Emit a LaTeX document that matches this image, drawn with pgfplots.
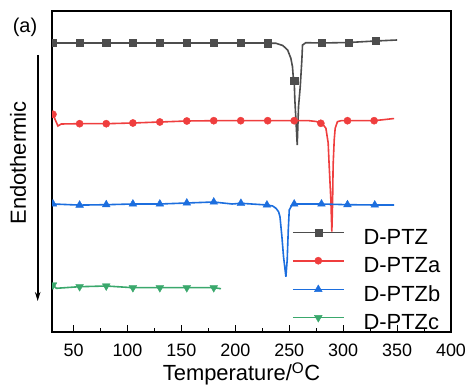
\documentclass[border=0pt]{standalone}
\usepackage{pgfplots}
\pgfplotsset{compat=1.18}
\usepackage{fontspec}
\setmainfont{Liberation Sans}
\usetikzlibrary{arrows.meta}
\definecolor{cgray}{RGB}{77,77,77}
\definecolor{cred}{RGB}{239,62,62}
\definecolor{cblue}{RGB}{28,110,222}
\definecolor{cgreen}{RGB}{58,168,108}
\begin{document}
\begin{tikzpicture}
\useasboundingbox (0bp,0bp) rectangle (472bp,388bp);
\begin{axis}[
  at={(52bp,56bp)}, anchor=south west, scale only axis,
  width=399bp, height=321bp,
  xmin=30, xmax=400, ymin=0, ymax=321,
  xtick={50,100,...,400}, minor x tick num=1, ytick=\empty,
  xtick pos=bottom, tick align=inside,
  major tick length=6.5bp, minor tick length=3.5bp,
  axis line style={line width=1.2bp},
  every tick/.style={black, line width=1bp},
  ticklabel style={font=\fontsize{18}{20}\selectfont},
  /pgf/number format/assume math mode=true,
  xticklabel shift=8bp,
  xlabel={Temperature/\textsuperscript{O}C},
  xlabel style={font=\fontsize{22}{24}\selectfont, at={(axis description cs:0.475,0)}, anchor=north, yshift=-27bp},
  clip marker paths=true,
  legend style={at={(axis description cs:0.601,0.323)}, anchor=north west, draw=none, fill=none,
     inner sep=0pt, column sep=19bp, row sep=8.2bp,
     font=\fontsize{22}{24}\selectfont,
     nodes={inner sep=0pt, text height=16bp, text depth=4bp}},
  legend cell align=left,
  legend image code/.code={\draw[#1, line width=1.6bp] (0bp,6bp) -- (51bp,6bp); \draw[#1] plot coordinates {(25.5bp,6bp)};},
]
% D-PTZ
\addplot[cgray, line width=1.6bp, no marks, forget plot] coordinates {
(30,289) (55,289) (80,289) (105,289) (130,289) (155,289) (180,289) (205,289) (225,289)
(230,288.8) (237.7,288.7) (244,286.5) (248.5,282) (251.5,273.7) (253,265.3) (253.7,255.3)
(254.6,251.3) (255.2,232) (256.2,212) (257.4,187) (258.6,225.3) (260.2,245.3) (261.7,272)
(262.3,287) (265.4,289.3) (280,289) (305,289.5) (330,291) (350,292)};
\addplot[cgray, only marks, mark=square*, mark size=3.6bp] coordinates {
(30.9,289) (55.6,289) (80.3,289) (105,289) (130,289) (155,289) (180,289) (205,289) (230,288.8)
(254.6,251.3) (280,289) (305,289.5) (330,291)};
\addlegendentry{D-PTZ}
% D-PTZa
\addplot[cred, line width=1.6bp, no marks, forget plot] coordinates {
(30.9,217.7) (32.4,213.7) (35.5,206) (38.6,208) (55.6,208.3) (80.3,208.3) (105,209) (130,210)
(155,211) (180,211.3) (205,211.3) (230,211.3) (254.6,211.3) (268.5,211.3) (275,210.5)
(279.3,208.7) (282,206.5) (284,203.7) (286.1,189) (287,167) (288.6,132) (289.5,100.3)
(290.2,130) (290.7,167) (291.7,192) (292.6,203.7) (294.7,210.3) (298,211.3) (304,211.3)
(328.7,211.3) (345.7,213.3) (347.2,213.3)};
\addplot[cred, only marks, mark=*, mark size=3.6bp] coordinates {
(30.9,217.7) (55.6,208.3) (80.3,208.3) (105,209) (130,210) (155,211) (180,211.3) (205,211.3)
(230,211.3) (254.6,211.3) (279.3,208.7) (304,211.3) (328.7,211.3)};
\addlegendentry{D-PTZa}
% D-PTZb
\addplot[cblue, line width=1.6bp, no marks, forget plot] coordinates {
(30.9,128) (55.6,126.9) (80.3,127.3) (105,128) (130,128) (155,129) (180,130) (197,128)
(205.2,128.7) (229.3,127) (234.6,126) (237.7,123.7) (240.1,120.3) (241.4,115.3) (243.2,95.3)
(244.7,75.3) (246.9,55.3) (248.1,72) (249.1,102) (250,122) (252.5,127) (254.6,128)
(279.9,128) (304,127.3) (329.3,127) (347.2,127)};
\addplot[cblue, only marks, mark=triangle*, mark size=4.5bp] coordinates {
(30.9,128) (55.6,126.9) (80.3,127.3) (105,128) (130,128) (155,129) (180,130) (205.2,128.7)
(229.3,127) (254.6,128) (279.9,128) (304,127.3) (329.3,127)};
\addlegendentry{D-PTZb}
% D-PTZc
\addplot[cgreen, line width=1.6bp, no marks, forget plot] coordinates {
(30.9,47) (34,43.7) (55.6,45.3) (80.3,46) (105,44.3) (130,44.3) (155,44.3) (180,44.3) (186.7,43.3)};
\addplot[cgreen, only marks, mark=triangle*, mark options={rotate=180}, mark size=4.5bp] coordinates {
(30.9,47) (55.6,45.3) (80.3,46) (105,44.3) (130,44.3) (155,44.3) (180,44.3)};
\addlegendentry{D-PTZc}
\end{axis}
\draw[line width=1.8bp, -{Stealth[length=9bp, width=5.5bp]}] (37.7bp,333bp) -- (37.7bp,87bp);
\node[rotate=90, font=\fontsize{22}{24}\selectfont, inner sep=0pt] at (18bp,225bp) {Endothermic};
\node[font=\fontsize{20}{22}\selectfont, inner sep=0pt] at (25bp,361bp) {(a)};
\end{tikzpicture}
\end{document}
